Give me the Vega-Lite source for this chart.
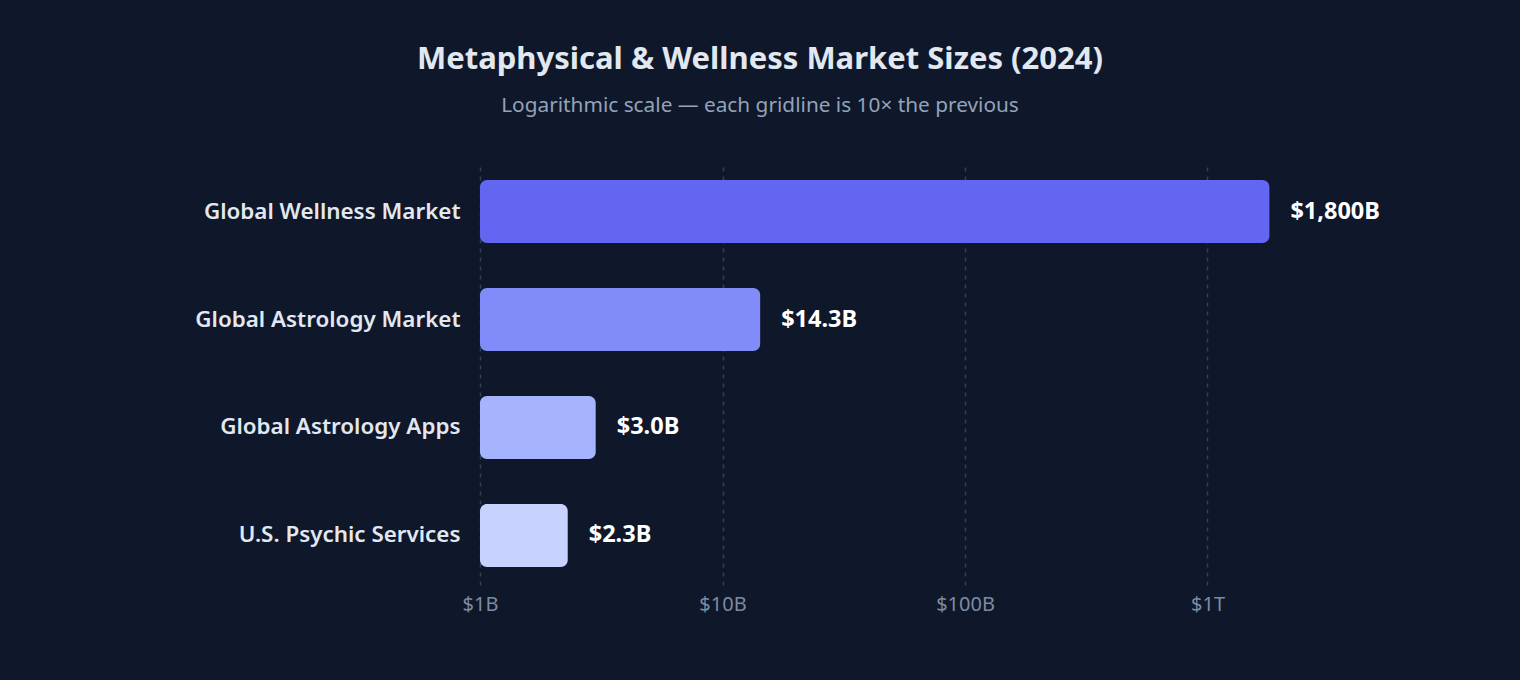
{
  "$schema": "https://vega.github.io/schema/vega-lite/v6.json",
  "autosize": "none",
  "width": 970,
  "height": 423,
  "padding": {"left": 480, "top": 162, "right": 70, "bottom": 95},
  "background": "#0f172a",
  "config": {
    "view": {"stroke": null},
    "font": "Noto Sans"
  },
  "title": {
    "text": "Metaphysical & Wellness Market Sizes (2024)",
    "subtitle": "Logarithmic scale — each gridline is 10× the previous",
    "anchor": "middle",
    "frame": "group",
    "dx": -205,
    "offset": 45,
    "font": "Noto Sans",
    "fontSize": 31,
    "fontWeight": "bold",
    "color": "#e2e8f0",
    "subtitleFont": "Noto Sans",
    "subtitleFontSize": 20.8,
    "subtitleColor": "#94a3b8",
    "subtitlePadding": 20
  },
  "data": {
    "values": [
      {"market": "Global Wellness Market", "value": 1800},
      {"market": "Global Astrology Market", "value": 14.3},
      {"market": "Global Astrology Apps", "value": 3.0},
      {"market": "U.S. Psychic Services", "value": 2.3}
    ]
  },
  "encoding": {
    "y": {
      "field": "market",
      "type": "nominal",
      "sort": null,
      "scale": {"paddingInner": 0.4167, "paddingOuter": 0.1667},
      "axis": {
        "title": null,
        "domain": false,
        "ticks": false,
        "labelPadding": 20,
        "labelLimit": 0,
        "labelFontSize": 22.4,
        "labelFontWeight": 600,
        "labelColor": "#e2e8f0",
        "grid": false
      }
    },
    "x": {
      "field": "value",
      "type": "quantitative",
      "scale": {"type": "log", "domain": [1, 10000], "nice": false},
      "axis": {
        "title": null,
        "values": [1, 10, 100, 1000],
        "labelExpr": "datum.value >= 1000 ? '$' + (datum.value / 1000) + 'T' : '$' + datum.value + 'B'",
        "domain": false,
        "ticks": false,
        "labelFlush": false,
        "labelAlign": "center",
        "labelPadding": 9,
        "labelFontSize": 20,
        "labelColor": "#7d8ba1",
        "grid": true,
        "gridColor": "#334155",
        "gridDash": [4, 5],
        "gridWidth": 1.5
      }
    }
  },
  "layer": [
    {
      "mark": {"type": "bar", "cornerRadius": 7},
      "encoding": {
        "x2": {"datum": 1},
        "color": {
          "field": "market",
          "type": "nominal",
          "sort": null,
          "legend": null,
          "scale": {
            "domain": ["Global Wellness Market", "Global Astrology Market", "Global Astrology Apps", "U.S. Psychic Services"],
            "range": ["#6366f1", "#818cf8", "#a5b4fc", "#c7d2fe"]
          }
        }
      }
    },
    {
      "transform": [
        {"calculate": "datum.value >= 1000 ? '$' + format(datum.value, ',') + 'B' : '$' + format(datum.value, '.1f') + 'B'", "as": "label"}
      ],
      "mark": {"type": "text", "align": "left", "baseline": "middle", "dx": 21, "fontSize": 23.5, "fontWeight": "bold", "color": "#ffffff"},
      "encoding": {
        "text": {"field": "label"}
      }
    }
  ]
}
